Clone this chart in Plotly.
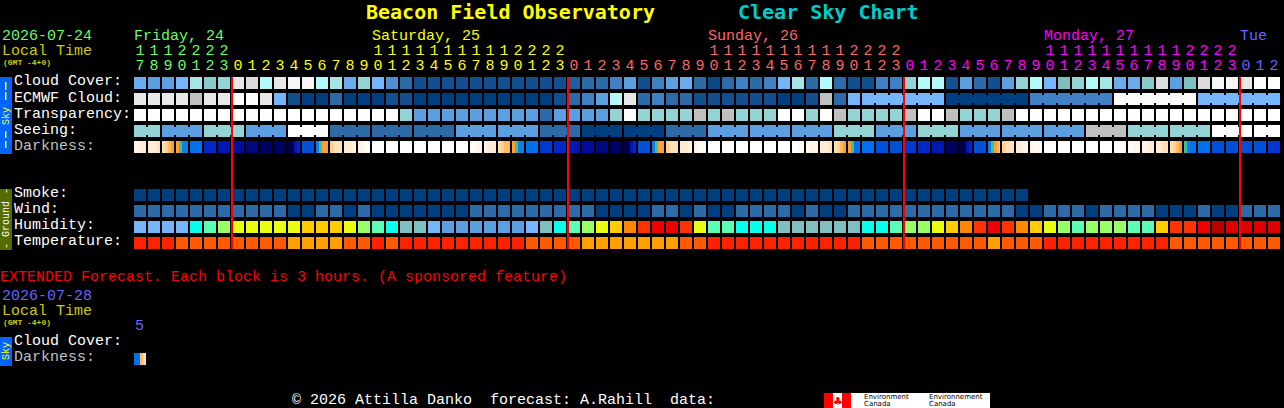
import plotly.graph_objects as go

W, H = 1284, 408
fundo = '#000000'
mono = 'Liberation Mono'

# hora de cada bloco
hour_ticks = [17, 18, 19, 20, 21, 22, 23] + list(range(24)) * 3 + [0, 1, 2]
day_names = ['Friday, 24', 'Saturday, 25', 'Sunday, 26', 'Monday, 27', 'Tue']
day_first_col = [0, 7, 31, 55, 79]
day_label_px = [134, 372, 708, 1044, 1240]
day_colors = ['#66ff66', '#ffff00', '#ff6666', '#ff00ff', '#6666ff']

# paleta: nuvens 0-14, umidade 15-24, temperatura 25-27
palette = ['#003f7f', '#134f8e', '#2c6ba8', '#4080c4', '#5c9fe0', '#77b5fa', '#80bfbf', '#94d4d4',
           '#a5e5e5', '#b4fafa', '#c0c0c0', '#dcdcdc', '#e8e8e8', '#f6f6f6', '#ffffff',
           '#08ffea', '#5affb4', '#99ff66', '#eaff10', '#ffcc00', '#ff8800', '#ff3300', '#ee0000',
           '#dd0000', '#bb0000', '#ff2200', '#ff5a00', '#ffa000']

cloud_cover = [4.5, 4, 4, 5, 8, 6.5, 7, 12, 11, 9, 12, 13, 13, 9, 8, 4.5, 7, 5, 3.5, 2, 1,
               1, 1, 1, 1, 1, 1, 1, 1, 1, 1,
               1.5, 2, 2, 3, 4, 1, 3, 4, 4.5, 2, 0.5, 2, 3, 2, 3, 5, 8, 2, 9, 2, 1,
               1, 3, 3, 7, 9, 9, 1, 4, 2, 1, 4, 7, 9, 5, 6, 7, 9, 8, 4.5, 4.5, 6.5, 11, 4, 6, 11, 13, 13, 12, 14, 14]
ecmwf = [12, 12, 12, 12, 10, 12, 12, 14, 14, 12, 5, 1, 0, 0, 2, 0, 0, 0, 1, 1, 0,
         0, 0, 0, 0, 0, 0, 0, 0, 0, 1, 2, 3, 4, 9, 12, 2, 3, 2, 2, 1, 1, 1, 1, 1, 1, 0, 0, 1, 10, 2, 5,
         5, 5, 5, 5, 5, 5, 0, 0, 0, 0, 0, 0, 3, 3, 3, 3, 3, 3, 13.5, 13.5, 13.5, 13.5, 13.5, 13.5, 5, 5, 5, 5, 5, 5]
transparency = [14] * 19 + [7] + [4] * 9 + [2] + [4] * 4 + \
               [7, 14, 7, 7, 7, 7, 10, 7, 10, 7, 7, 7, 14, 14, 7, 14, 10, 7] + \
               [7, 7, 7, 10, 14, 14, 10, 7, 7, 7, 10] + [14] * 19
seeing = [7, 7] + [4] * 3 + [7] * 3 + [4] * 3 + [14] * 3 + [2] * 9 + [4] * 6 + [2] * 3 + [0] * 6 + [2] * 3 + \
         [4] * 9 + [7] * 3 + [4] * 3 + [7] * 3 + [4] * 9 + [10] * 3 + [7] * 6 + [14] * 5
smoke = [0] * 64 + [None] * 18
wind = [2] * 11 + [0, 0, 2, 2, 0, 2] + [0] * 7 + [2] * 9 + [0] * 4 + [2, 2, 0, 2, 0, 0] + [2] * 4 + \
       [0, 2, 0, 0, 2] + [2] * 11 + [0, 0] + [2, 2, 2, 0] + [2] * 4 + [0, 0, 0, 2, 0, 0] + [2] * 3
humidity = [5, 5, 5, 5, 15, 16, 17, 18, 18, 18, 18, 18, 19, 19, 19, 18, 17, 16, 15, 6, 6,
            5, 4, 4, 4, 4, 4, 4, 5, 6, 15, 16, 17, 18, 19, 20, 21, 22, 22, 21, 18, 16, 16, 15, 15, 15,
            6, 6, 6, 6, 6, 6, 15, 15, 16, 17, 17, 18, 19, 20, 21, 22, 21, 20, 19, 18, 17, 16,
            17, 17, 17, 16, 16, 19, 21, 21, 22, 24, 23, 23, 23, 23]
temperature = [25] * 3 + [26] * 8 + [27] * 4 + [26] * 2 + [25] + [26] + [25] * 9 + [26] * 4 + [27] * 7 + [26] * 2 + \
              [25] * 11 + [26] * 9 + [27] + [26] * 3 + [25] * 9 + [26] * 8

# escuridao: quatro leituras por bloco
dark_palette = ['#ffffff', '#fffaf4', '#fff4ea', '#ffecd4', '#ffe0b8', '#ffd090', '#ffbc60', '#ffa030',
                '#3cc0a0', '#1080e0', '#0070ec', '#0050d8', '#0038d0', '#0028c4', '#0018b0', '#000ca0',
                '#000880', '#000060', '#000048']
darkness = [[2, 2, 3, 3], [3, 3, 3, 4], [4, 5, 6, 7], [7, 8, 9, 9], [10, 10, 10, 10], [13, 13, 13, 13],
            [14, 14, 14, 14], [15, 15, 15, 15], [16, 16, 16, 16], [17, 17, 17, 17], [17, 17, 17, 17],
            [18, 17, 14, 13], [11, 11, 11, 11], [9, 8, 7, 7], [5, 4, 4, 4], [3, 3, 3, 2], [2, 2, 1, 1]] + \
           [[0, 0, 0, 0]] * 7 + \
           [[1, 1, 2, 2], [2, 3, 3, 3], [4, 5, 6, 6], [7, 8, 9, 9], [10, 10, 10, 10], [12, 12, 12, 12],
            [13, 13, 13, 13], [14, 14, 14, 14], [15, 15, 15, 15], [16, 16, 16, 16], [17, 17, 17, 17],
            [18, 17, 14, 13], [11, 11, 11, 11], [9, 8, 7, 7], [5, 4, 4, 4], [3, 3, 3, 2], [2, 1, 1, 1]] + \
           [[0, 0, 0, 0]] * 6 + \
           [[0, 0, 1, 1], [1, 2, 2, 2], [3, 3, 3, 4], [4, 5, 6, 7], [7, 8, 10, 10], [10, 10, 10, 10],
            [11, 11, 11, 11], [11, 11, 11, 11], [12, 12, 12, 12], [13, 13, 13, 13], [14, 14, 14, 14],
            [17, 17, 17, 17], [18, 17, 14, 13], [11, 11, 11, 11], [9, 8, 7, 6], [5, 4, 4, 4], [3, 3, 2, 2],
            [2, 1, 1, 1]] + \
           [[0, 0, 0, 0]] * 5 + \
           [[0, 0, 1, 1], [1, 1, 2, 2], [2, 2, 3, 3], [3, 3, 4, 4], [4, 5, 6, 7], [8, 9, 10, 10],
            [10, 10, 10, 10], [11, 11, 11, 11], [11, 11, 11, 11], [11, 11, 11, 11], [11, 11, 11, 11],
            [12, 12, 12, 12]]
darkness_extended = [[10, 10, 6, 4]]

cols = list(range(len(hour_ticks)))
rows = list(range(11))
blocks = [cloud_cover, ecmwf, transparency, seeing, [None] * 82, [None] * 82, [None] * 82,
          smoke, wind, humidity, temperature]

# pontes: seeing em grupos de 3 blocos, ECMWF em grupos de 6 a partir da coluna 52
seeing_bridge = [seeing[i] if (i + 1) % 3 != 2 else None for i in cols[:-1]]
ecmwf_bridge = [ecmwf[i] if i >= 52 and (i + 1 - 52) % 6 != 0 else None for i in cols[:-1]]


def escala(cores):
    return [[i / (len(cores) - 1), c] for i, c in enumerate(cores)]


def darkness_trace(valores, linha):
    # cada bloco: 4 fatias de 3 px e um vao de 2 px
    bordas, z = [], []
    for i, fatias in enumerate(valores):
        inicio = i - 0.5 + 1 / 14
        bordas += [inicio + k * 3 / 14 for k in range(5)]
        z += list(fatias) + [None]
    bordas.append(len(valores) - 0.5 + 1 / 14)
    return go.Heatmap(z=[z], x=bordas, y=[linha - 0.5, linha + 0.5], ygap=4,
                      colorscale=escala(dark_palette), zmin=0, zmax=len(dark_palette) - 1,
                      showscale=False, hoverinfo='skip')


fig = go.Figure()
fig.add_trace(go.Heatmap(z=blocks, x=cols, y=rows, xgap=2, ygap=4,
                         colorscale=escala(palette), zmin=0, zmax=len(palette) - 1,
                         showscale=False, hoverinfo='skip'))
fig.add_trace(go.Heatmap(z=[ecmwf_bridge, [None] * 81, seeing_bridge], x=[c + 0.5 for c in cols[:-1]], y=[1, 2, 3],
                         xgap=12, ygap=8, colorscale=escala(palette), zmin=0, zmax=len(palette) - 1,
                         showscale=False, hoverinfo='skip'))
fig.add_trace(darkness_trace(darkness, 4))
fig.add_trace(darkness_trace(darkness_extended, 17.25))

# linhas vermelhas da meia-noite
for primeira in day_first_col[1:]:
    fig.add_trace(go.Scatter(x=[primeira - 0.5 + 1 / 14] * 2, y=[-0.375, 10.375], mode='lines',
                             line=dict(color='#ff0000', width=2), hoverinfo='skip'))

# horas
hour_colors = []
for c in cols:
    dia = sum(1 for p in day_first_col if p <= c) - 1
    hour_colors.append(day_colors[dia])
for px_y, textos in [(51, [str(h // 10) if h >= 10 else '' for h in hour_ticks]),
                     (66, [str(h % 10) for h in hour_ticks])]:
    fig.add_trace(go.Scatter(x=cols, y=[(px_y - 83) / 16] * len(cols), mode='text', text=textos,
                             textposition='middle center',
                             textfont=dict(family=mono, size=15, color=hour_colors), hoverinfo='skip'))


def rotulo(texto, x, y, cor='#ffffff', size=15, fam=mono, angulo=0, centro=False):
    fig.add_annotation(text=texto, x=x / W, y=1 - y / H, xref='paper', yref='paper', showarrow=False,
                       xanchor='center' if centro else 'left', yanchor='middle', textangle=angulo,
                       font=dict(family=fam, size=size, color=cor), borderpad=0, borderwidth=0)


def caixa(x0, x1, y0, y1, cor):
    fig.add_shape(type='rect', xref='paper', yref='paper', x0=x0 / W, x1=x1 / W,
                  y0=1 - y1 / H, y1=1 - y0 / H, fillcolor=cor, line_width=0, layer='below')


# titulo
rotulo('<b>Beacon Field Observatory</b>', 366, 12, '#ffff00', 20, 'DejaVu Sans Mono')
rotulo('<b>Clear Sky Chart</b>', 738, 12, '#00cccc', 20, 'DejaVu Sans Mono')

# cabecalho
rotulo('2026-07-24', 2, 36, '#66ff66')
rotulo('Local Time', 2, 51, '#cccc00')
rotulo('<b>(GMT -4+0)</b>', 3, 62, '#cccc00', 8)
for nome, px, cor in zip(day_names, day_label_px, day_colors):
    rotulo(nome, px, 36, cor)

# nomes das linhas
for nome, y in [('Cloud Cover:', 82), ('ECMWF Cloud:', 98), ('Transparency:', 114), ('Seeing:', 130)]:
    rotulo(nome, 14, y)
rotulo('Darkness:', 14, 146, '#c0c0c0')
for nome, y in [('Smoke:', 193.5), ('Wind:', 209.5), ('Humidity:', 225.5), ('Temperature:', 241.5)]:
    rotulo(nome, 14, y)

# barras laterais
caixa(0, 12, 77, 154, '#0064ff')
for y0, y1 in [(82, 90), (92, 100), (131, 138), (141, 148)]:
    caixa(5, 6.5, y0, y1, '#ffff00')
rotulo('Sky', 6, 116, '#ffff00', 10, mono, -90, True)
caixa(0, 12, 189, 250, '#556b00')
rotulo('-', 6, 191, '#ffffff', 10, mono, -90, True)
rotulo('Ground', 6, 219, '#ffffff', 10, mono, -90, True)
rotulo('-', 6, 246, '#ffffff', 10, mono, -90, True)
caixa(0, 12, 337, 366, '#0064ff')
rotulo('Sky', 6, 351, '#ffff00', 10, mono, -90, True)

# previsao estendida
rotulo('EXTENDED Forecast. Each block is 3 hours. (A sponsored feature)', 0, 277, '#ff0000')
rotulo('2026-07-28', 2, 296, '#6666ff')
rotulo('Local Time', 2, 311, '#cccc00')
rotulo('<b>(GMT -4+0)</b>', 3, 322, '#cccc00', 8)
rotulo('5', 135, 326, '#6666ff')
rotulo('Cloud Cover:', 14, 341.5)
rotulo('Darkness:', 14, 357.5, '#c0c0c0')

# rodape
rotulo('\u00a9 2026 Attilla Danko  forecast: A.Rahill  data:', 292, 400)
caixa(824, 990, 393, 408, '#ffffff')
caixa(824, 833, 393, 408, '#ff0000')
caixa(842, 851, 393, 408, '#ff0000')
rotulo('\u2663', 837.5, 401, '#ff0000', 11, 'DejaVu Sans', 0, True)
rotulo('Environment', 864, 397, '#000000', 7, 'DejaVu Sans')
rotulo('Canada', 864, 404, '#000000', 7, 'DejaVu Sans')
rotulo('Environnement', 929, 397, '#000000', 7, 'DejaVu Sans')
rotulo('Canada', 929, 404, '#000000', 7, 'DejaVu Sans')

fig.update_layout(
    width=W, height=H, autosize=False, showlegend=False,
    margin=dict(l=0, r=0, t=0, b=0, pad=0),
    plot_bgcolor=fundo, paper_bgcolor=fundo,
    xaxis=dict(visible=False, range=[-10, (W - 140) / 14]),
    yaxis=dict(visible=False, range=[(H - 83) / 16, -83 / 16]),
)

fig.write_html("out.html", config={'displayModeBar': False},
               post_script="document.body.style.margin='0';document.body.style.background='#000';")
